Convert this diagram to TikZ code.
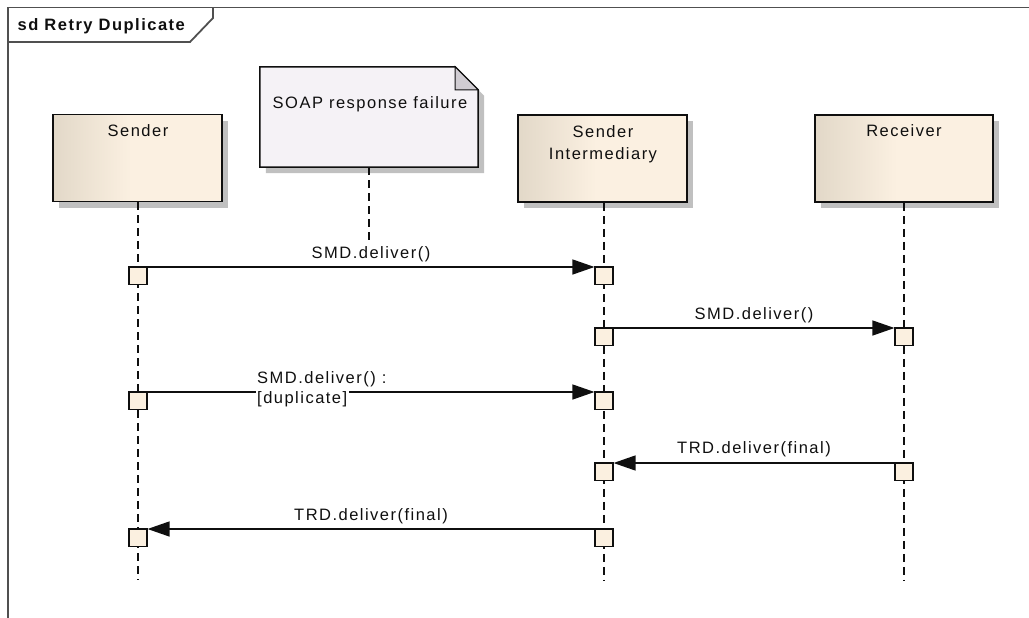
\documentclass[tikz,border=0pt]{standalone}
\usepackage{fontspec}
\setmainfont{Liberation Sans}[LetterSpace=9]
\usetikzlibrary{arrows.meta,shadows}

\definecolor{headL}{RGB}{226,216,200}
\definecolor{headR}{RGB}{251,240,225}
\definecolor{actFill}{RGB}{251,240,224}
\definecolor{noteFill}{RGB}{245,242,246}
\definecolor{foldFill}{RGB}{208,204,210}
\definecolor{shadowGray}{RGB}{192,192,192}
\definecolor{frameGray}{RGB}{80,80,80}
\definecolor{inkBlack}{RGB}{15,15,15}

% lifeline head: darker on the left, fading to cream
\pgfdeclarehorizontalshading{headshade}{100bp}{color(0bp)=(headL); color(25bp)=(headL); color(48bp)=(headR); color(100bp)=(headR)}

\begin{document}
\begin{tikzpicture}[x=1pt,y=-1pt,
  txt/.style={font=\fontsize{16.5}{23}\selectfont, text=inkBlack, inner sep=0pt},
  head/.style={draw=inkBlack, line width=1.5pt, shading=headshade,
    minimum width=169pt, minimum height=87pt, inner sep=0pt,
    drop shadow={shadow xshift=6pt, shadow yshift=-6pt, fill=shadowGray, opacity=1}},
  lifeline/.style={draw=inkBlack, line width=1.4pt, dash pattern=on 8pt off 5pt},
  act/.style={draw=inkBlack, line width=1.6pt, fill=actFill, minimum width=17.5pt,
    minimum height=17.5pt, inner sep=0pt, anchor=north},
  msg/.style={draw=inkBlack, line width=1.4pt, -{Triangle[length=22pt,width=15pt]}},
  frameline/.style={draw=frameGray, line width=1.8pt},
]
\useasboundingbox (0,0) rectangle (1029,618);

% frame and its tag
\draw[frameline] (8,618) -- (8,7.5) -- (1029,7.5);
\draw[frameline] (8,42) -- (190,42) -- (213,18) -- (213,7.5);
\node[txt, font=\fontsize{16.5}{18}\bfseries, anchor=base west] (title) at (17.5,30.5) {sd Retry Duplicate};

% lifeline heads
\node[head] (snd) at (137.5,158) {};
\node[head] (smi) at (602.5,158.5) {};
\node[head, minimum width=178pt] (rcv) at (904,158.5) {};
\node[txt, anchor=base] (sndT) at (138,136) {Sender};
\node[txt, anchor=base] (smiT1) at (603,137) {Sender};
\node[txt, anchor=base] (smiT2) at (603,159) {Intermediary};
\node[txt, anchor=base] (rcvT) at (904,136) {Receiver};

% lifelines
\coordinate (sndEnd) at (138,580);
\coordinate (smiEnd) at (604,580);
\coordinate (rcvEnd) at (904,580);
\draw[lifeline] (snd.south -| sndEnd) -- (sndEnd);
\draw[lifeline] (smi.south -| smiEnd) -- (smiEnd);
\draw[lifeline] (rcv.south -| rcvEnd) -- (rcvEnd);

% note
\node[minimum width=218pt, minimum height=100pt, inner sep=0pt] (note) at (369,117) {};
\fill[shadowGray] ([xshift=6pt,yshift=-6pt]note.north west) -- ([xshift=-17pt,yshift=-6pt]note.north east)
  -- ([xshift=6pt,yshift=-29pt]note.north east) -- ([xshift=6pt,yshift=-6pt]note.south east)
  -- ([xshift=6pt,yshift=-6pt]note.south west) -- cycle;
\draw[inkBlack, line width=1.5pt, fill=noteFill] (note.north west) -- ([xshift=-23pt]note.north east)
  -- ([yshift=-23pt]note.north east) -- (note.south east) -- (note.south west) -- cycle;
\draw[inkBlack, line width=1pt, fill=foldFill] ([xshift=-23pt]note.north east) -- ([xshift=-23pt,yshift=-23pt]note.north east)
  -- ([yshift=-23pt]note.north east) -- cycle;
\node[txt, anchor=base] (noteT) at (370,109) {SOAP response failure};
\coordinate (noteEnd) at (369,240);
\draw[lifeline] (note.south) -- (noteEnd);

% activations
\node[act] (s1) at (138,266) {};
\node[act] (i1) at (604,266) {};
\node[act] (i2) at (604,327) {};
\node[act] (r2) at (904,327) {};
\node[act] (s3) at (138,391) {};
\node[act] (i3) at (604,391) {};
\node[act] (i4) at (604,462) {};
\node[act] (r4) at (904,462) {};
\node[act] (s5) at (138,528) {};
\node[act] (i5) at (604,528) {};

% messages
\draw[msg] ([yshift=-1pt]s1.north east) -- ([yshift=-1pt]i1.north west);
\node[txt, anchor=base] (m1) at (371,258) {SMD.deliver()};

\draw[msg] ([yshift=-1pt]i2.north east) -- ([yshift=-1pt]r2.north west);
\node[txt, anchor=base] (m2) at (754,319) {SMD.deliver()};

\draw[msg] ([yshift=-1pt]s3.north east) -- ([yshift=-1pt]i3.north west);
\node[txt, anchor=base west] (m3a) at (257,383) {SMD.deliver() :};
\node[txt, anchor=base west, fill=white, inner xsep=1.5pt, inner ysep=1pt] (m3b) at (255.5,403) {[duplicate]};

\draw[msg] ([yshift=-1pt]r4.north west) -- ([yshift=-1pt]i4.north east);
\node[txt, anchor=base] (m4) at (754,453) {TRD.deliver(final)};

\draw[msg] ([yshift=-1pt]i5.north west) -- ([yshift=-1pt]s5.north east);
\node[txt, anchor=base] (m5) at (371,520) {TRD.deliver(final)};
\end{tikzpicture}
\end{document}
